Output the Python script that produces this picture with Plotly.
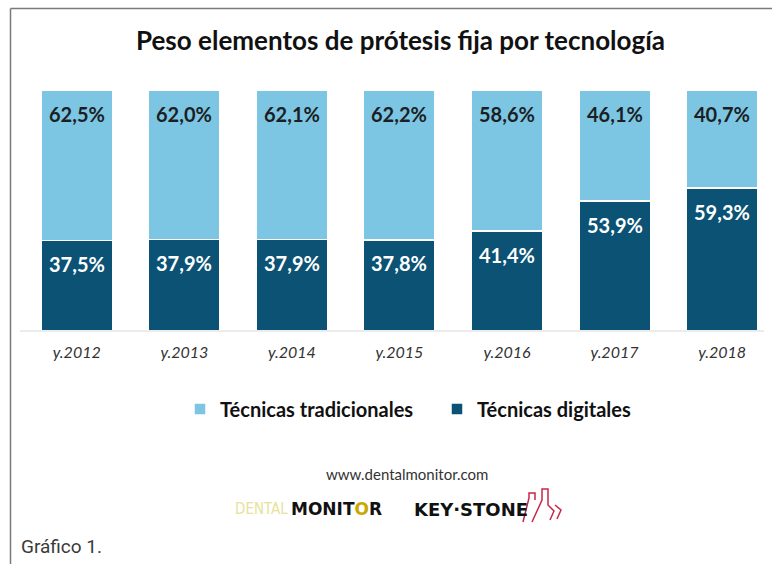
import plotly.graph_objects as go

# ---- data ----
years = ["y.2012", "y.2013", "y.2014", "y.2015", "y.2016", "y.2017", "y.2018"]
tradicionales = [62.5, 62.0, 62.1, 62.2, 58.6, 46.1, 40.7]
digitales = [37.5, 37.9, 37.9, 37.8, 41.4, 53.9, 59.3]
series_names = ["Técnicas tradicionales", "Técnicas digitales"]
title_text = "Peso elementos de prótesis fija por tecnología"
source_text = "www.dentalmonitor.com"
caption_text = "Gráfico 1."

# ---- style ----
C_LIGHT = "#7dc6e3"
C_DARK = "#0b5275"
W, H = 772, 564
L, T = 23, 90
PW, PH = W - L, 241
B = H - T - PH


def xp(px):
    return (px - L) / PW


def yp(py):
    return (T + PH - py) / PH


def fmt(v):
    return f"{v:.1f}".replace(".", ",") + "%"


fig = go.Figure()
fig.add_trace(go.Bar(
    x=years, y=digitales, name=series_names[1],
    marker=dict(color=C_DARK, line=dict(color="white", width=1.5)),
    hoverinfo="skip",
))
fig.add_trace(go.Bar(
    x=years, y=tradicionales, name=series_names[0],
    marker=dict(color=C_LIGHT, line=dict(color="white", width=1.5)),
    hoverinfo="skip",
))

annotations = []
for yr, d, t in zip(years, digitales, tradicionales):
    annotations.append(dict(
        x=yr, y=d, xref="x", yref="y", text=fmt(d), showarrow=False,
        yanchor="middle", yshift=-23.5,
        font=dict(family="Lato", size=20, color="white", weight="bold"),
    ))
    annotations.append(dict(
        x=yr, y=d + t, xref="x", yref="y", text=fmt(t), showarrow=False,
        yanchor="middle", yshift=-23.5,
        font=dict(family="Lato", size=20, color="#1b1f24", weight="bold"),
    ))

# title
annotations.append(dict(
    x=xp(400), y=yp(40), xref="paper", yref="paper", text=title_text,
    showarrow=False, xanchor="center", yanchor="middle",
    font=dict(family="Lato", size=26, color="#111111", weight="bold"),
))
# source
annotations.append(dict(
    x=xp(407), y=yp(474), xref="paper", yref="paper", text=source_text,
    showarrow=False, xanchor="center", yanchor="middle",
    font=dict(family="Lato", size=15, color="#333333"),
))
# logos (as text)
annotations.append(dict(
    x=xp(290), y=yp(509), xref="paper", yref="paper", text="DENTAL",
    showarrow=False, xanchor="right", yanchor="middle",
    font=dict(family="DejaVu Sans Condensed", size=15, color="#e8e29a"),
))
annotations.append(dict(
    x=xp(289), y=yp(509), xref="paper", yref="paper",
    text="MONIT<span style='color:#c9a800'>O</span>R",
    showarrow=False, xanchor="left", yanchor="middle",
    font=dict(family="DejaVu Sans", size=17, color="#111111", weight="bold"),
))
annotations.append(dict(
    x=xp(412), y=yp(509), xref="paper", yref="paper", text="KEY·STONE",
    showarrow=False, xanchor="left", yanchor="middle",
    font=dict(family="DejaVu Sans", size=18, color="#111111", weight="bold"),
))
# caption
annotations.append(dict(
    x=xp(19), y=yp(546), xref="paper", yref="paper", text=caption_text,
    showarrow=False, xanchor="left", yanchor="middle",
    font=dict(family="Roboto", size=19, color="#3a3a3a"),
))

RED = "#c8274a"
shapes = [
    # frame
    dict(type="line", xref="paper", yref="paper", x0=xp(10.5), x1=xp(772), y0=yp(8.5), y1=yp(8.5),
         line=dict(color="#7a7a7a", width=1.5)),
    dict(type="line", xref="paper", yref="paper", x0=xp(10.5), x1=xp(10.5), y0=yp(8.5), y1=yp(564),
         line=dict(color="#7a7a7a", width=1.5)),
    # baseline
    dict(type="line", xref="paper", yref="paper", x0=xp(20), x1=xp(764), y0=yp(331), y1=yp(331),
         line=dict(color="#d9d9d9", width=1)),
    # red building mark of logo
    dict(type="path", xref="paper", yref="paper",
         path=(f"M {xp(523)},{yp(522)} L {xp(529)},{yp(498)} L {xp(529)},{yp(493)} L {xp(535)},{yp(493)} "
               f"L {xp(535)},{yp(500)}"),
         line=dict(color=RED, width=1.5)),
    dict(type="path", xref="paper", yref="paper",
         path=(f"M {xp(532)},{yp(522)} L {xp(542)},{yp(500)} L {xp(542)},{yp(489)} L {xp(548)},{yp(489)} "
               f"L {xp(548)},{yp(505)} L {xp(554)},{yp(511)} L {xp(550)},{yp(520)}"),
         line=dict(color=RED, width=1.5)),
    dict(type="path", xref="paper", yref="paper",
         path=f"M {xp(555)},{yp(505)} L {xp(561)},{yp(510)} L {xp(557)},{yp(519)}",
         line=dict(color=RED, width=1.5)),
]

fig.update_layout(
    width=W, height=H,
    margin=dict(l=L, r=0, t=T, b=B, pad=0, autoexpand=False),
    paper_bgcolor="white", plot_bgcolor="white",
    barmode="stack", bargap=0.335,
    showlegend=True,
    legend=dict(
        orientation="h", traceorder="reversed",
        x=xp(180), y=yp(409), xanchor="left", yanchor="middle",
        font=dict(family="Lato", size=20, color="#111111", weight="bold"),
        bgcolor="rgba(0,0,0,0)",
        entrywidth=212, entrywidthmode="pixels",
    ),
    xaxis=dict(
        range=[-0.5, 6.464], showgrid=False, zeroline=False, showline=False,
        ticks="", ticklabelstandoff=10,
        tickfont=dict(family="Lato", size=16, color="#333333", style="italic"),
        fixedrange=True,
    ),
    yaxis=dict(range=[0, 100], visible=False, fixedrange=True),
    annotations=annotations,
    shapes=shapes,
)

fig.write_html("out.html")
